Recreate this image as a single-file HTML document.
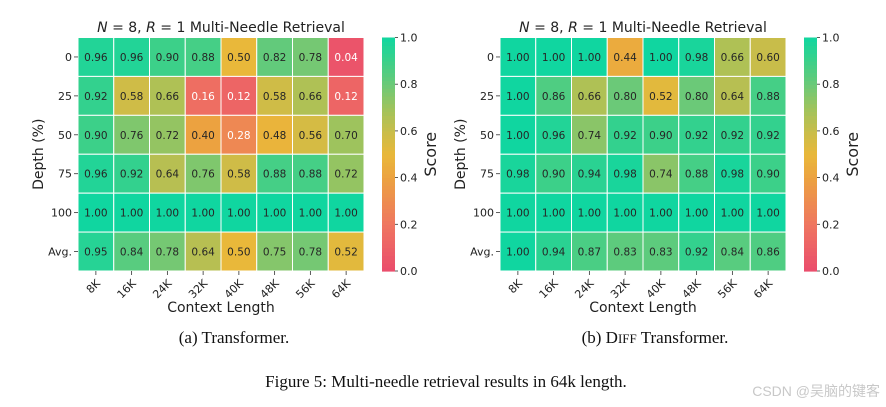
<!DOCTYPE html>
<html><head><meta charset="utf-8"><style>
html,body{margin:0;padding:0;background:#fff;width:886px;height:407px;overflow:hidden}
svg{display:block}
text{font-family:"DejaVu Sans","Liberation Sans",sans-serif;fill:#222}
.cap{font-family:"Liberation Serif",serif;fill:#111}
</style></head><body>
<svg id="fig" width="886" height="407">
<text class="cap" x="234" y="343" font-size="17" text-anchor="middle">(a) Transformer.</text>
<text class="cap" x="655" y="343" font-size="17" text-anchor="middle">(b) D<tspan font-size="13">IFF</tspan> Transformer.</text>
<text class="cap" x="446" y="387" font-size="17" text-anchor="middle">Figure 5: Multi-needle retrieval results in 64k length.</text>
<text x="880" y="396" font-size="14" text-anchor="end" style="fill:#c8c8c8;font-family:'Liberation Sans','Noto Sans CJK SC',sans-serif">CSDN @吴脑的键客</text>
</svg>
<script>
const categories = ["8K","16K","24K","32K","40K","48K","56K","64K"];
const rowLabels = ["0","25","50","75","100","Avg."];
const cbTicks = [0,0.2,0.4,0.6,0.8,1.0];
const transformerValues = [
 [0.96,0.96,0.90,0.88,0.50,0.82,0.78,0.04],
 [0.92,0.58,0.66,0.16,0.12,0.58,0.66,0.12],
 [0.90,0.76,0.72,0.40,0.28,0.48,0.56,0.70],
 [0.96,0.92,0.64,0.76,0.58,0.88,0.88,0.72],
 [1.00,1.00,1.00,1.00,1.00,1.00,1.00,1.00],
 [0.95,0.84,0.78,0.64,0.50,0.75,0.78,0.52]];
const diffValues = [
 [1.00,1.00,1.00,0.44,1.00,0.98,0.66,0.60],
 [1.00,0.86,0.66,0.80,0.52,0.80,0.64,0.88],
 [1.00,0.96,0.74,0.92,0.90,0.92,0.92,0.92],
 [0.98,0.90,0.94,0.98,0.74,0.88,0.98,0.90],
 [1.00,1.00,1.00,1.00,1.00,1.00,1.00,1.00],
 [1.00,0.94,0.87,0.83,0.83,0.92,0.84,0.86]];

const stops=[[0,[234,76,108]],[0.2,[239,118,96]],[0.4,[236,162,64]],[0.5,[233,184,58]],[0.6,[200,189,74]],[0.7,[158,195,93]],[0.8,[107,201,120]],[0.9,[60,208,137]],[1,[16,214,160]]];
function cmap(v){for(let i=1;i<stops.length;i++){if(v<=stops[i][0]){const a=stops[i-1],b=stops[i],t=(v-a[0])/(b[0]-a[0]);const c=a[1].map((x,k)=>Math.round(x+(b[1][k]-x)*t));return `rgb(${c.join(',')})`;}}return 'rgb(16,214,160)';}
const NS="http://www.w3.org/2000/svg",svg=document.getElementById('fig');
function mk(tag,attrs,parent,txt){const e=document.createElementNS(NS,tag);for(const k in attrs)e.setAttribute(k,attrs[k]);if(txt!==undefined)e.textContent=txt;(parent||svg).appendChild(e);return e;}

function panel(x0,values,id){
  const x1=x0+286,y0=37.5,y1=271;
  const cw=(x1-x0)/categories.length,ch=(y1-y0)/rowLabels.length;
  const xs=i=>x0+i*cw, ys=j=>y0+j*ch;
  const g=mk('g',{});
  
  
  const t=mk('text',{x:(x0+x1)/2,y:32,'font-size':14,'text-anchor':'middle'},g);
  t.innerHTML='<tspan font-style="italic">N</tspan> = 8, <tspan font-style="italic">R</tspan> = 1 Multi-Needle Retrieval';
  
  
  values.forEach((row,j)=>row.forEach((v,i)=>{
    const r=mk('rect',{x:xs(i),y:ys(j),width:cw,height:ch,fill:cmap(v),stroke:'#fff','stroke-width':1},g);
    
    
    const tx=mk('text',{x:xs(i)+cw/2,y:ys(j)+ch/2+4,'font-size':10.5,'text-anchor':'middle',style:'fill:'+(v<0.3?'#fff':'#262626')},g,v.toFixed(2));
    
    
  }));
  rowLabels.forEach((l,j)=>{
    const yy=ys(j)+ch/2;
    mk('line',{x1:x0-4,x2:x0,y1:yy,y2:yy,stroke:'#333','stroke-width':0.8},g);
    const tx=mk('text',{x:x0-6,y:yy+4,'font-size':11,'text-anchor':'end'},g,l);
    
    
  });
  categories.forEach((c,i)=>{
    const xx=xs(i)+cw/2;
    mk('line',{x1:xx,x2:xx,y1:y1,y2:y1+4,stroke:'#333','stroke-width':0.8},g);
    const tx=mk('text',{x:xx+5,y:y1+13,'font-size':11,'text-anchor':'end',transform:`rotate(-45 ${xx+5} ${y1+13})`},g,c);
    
    
  });
  const xl=mk('text',{x:(x0+x1)/2,y:312,'font-size':14,'text-anchor':'middle'},g,'Context Length');
  
  
  const yl=mk('text',{x:0,y:0,'font-size':14,'text-anchor':'middle',transform:`translate(${x0-35},${(y0+y1)/2}) rotate(-90)`},g,'Depth (%)');
  
  
  const cx=x0+304,cwid=13;
  const N=60;
  for(let k=0;k<N;k++){
    const v0=k/N,v1=(k+1)/N;
    const yy1=y1-(y1-y0)*v1,yy0=y1-(y1-y0)*v0;
    mk('rect',{x:cx,y:yy1,width:cwid,height:yy0-yy1+0.6,fill:cmap((v0+v1)/2)},g);
  }
  cbTicks.forEach(v=>{
    const yy=y1-(y1-y0)*v;
    mk('line',{x1:cx+cwid,x2:cx+cwid+3,y1:yy,y2:yy,stroke:'#333','stroke-width':0.8},g);
    const tx=mk('text',{x:cx+cwid+5,y:yy+4,'font-size':11},g,v.toFixed(1));
    
    
  });
  const sl=mk('text',{x:0,y:0,'font-size':16,'text-anchor':'middle',transform:`translate(${cx+54},${(y0+y1)/2}) rotate(-90)`},g,'Score');
  
  
}
panel(78,transformerValues,'transformer');
panel(500,diffValues,'diff-transformer');
</script>
</body></html>
